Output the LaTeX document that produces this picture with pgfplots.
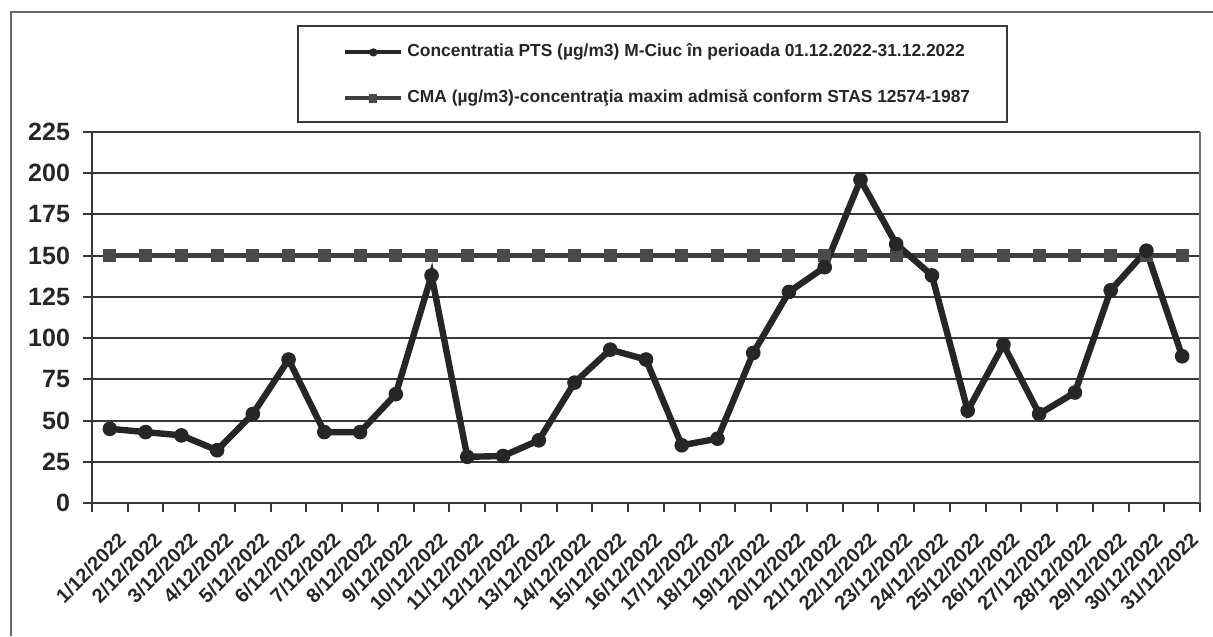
\documentclass[border=0pt]{standalone}
\usepackage{pgfplots}
\pgfplotsset{compat=1.18}
\usepackage{fontspec}
\setmainfont{Liberation Sans}
\definecolor{dk}{HTML}{262626}
\definecolor{gridc}{HTML}{383838}
\definecolor{cma}{HTML}{3E3E3E}
\definecolor{cmafill}{HTML}{4A4A4A}
\begin{document}
\begin{tikzpicture}
\useasboundingbox (-46pt,-66.5pt) rectangle (560.5pt,251.5pt);
\draw[gridc!75, line width=1pt] (-40.5pt,-66.5pt) -- (-40.5pt,245.5pt) -- (560.5pt,245.5pt);
\draw[gridc, line width=1pt] (103pt,190.5pt) rectangle (457.5pt,238.5pt);
\begin{axis}[
  at={(0pt,0pt)}, anchor=south west,
  scale only axis, width=554pt, height=185.5pt,
  xmin=0.5, xmax=31.5, ymin=0, ymax=225,
  clip=false,
  xtick={1,...,31},
  xticklabels={1/12/2022,2/12/2022,3/12/2022,4/12/2022,5/12/2022,6/12/2022,7/12/2022,8/12/2022,9/12/2022,10/12/2022,11/12/2022,12/12/2022,13/12/2022,14/12/2022,15/12/2022,16/12/2022,17/12/2022,18/12/2022,19/12/2022,20/12/2022,21/12/2022,22/12/2022,23/12/2022,24/12/2022,25/12/2022,26/12/2022,27/12/2022,28/12/2022,29/12/2022,30/12/2022,31/12/2022},
  minor xtick={0.5,1.5,...,31.5},
  ytick={0,25,...,225},
  ymajorgrids,
  grid style={gridc, line width=1pt},
  axis lines=left,
  axis line style={-, gridc, line width=1.3pt},
  tick align=outside,
  major tick length=4.5pt, minor tick length=4.5pt,
  tick style={gridc, line width=1pt},
  major x tick style={draw=none},
  /pgf/number format/assume math mode=true,
  yticklabel style={font=\bfseries\fontsize{12.5}{12.5}\selectfont, text=dk, xshift=-3pt},
  xticklabel style={font=\bfseries\fontsize{10}{10}\selectfont, text=dk, rotate=45, anchor=north east, inner sep=0pt, yshift=-9pt, xshift=-4pt},
  reverse legend,
  legend cell align=left,
  legend style={at={(0.2265,1.2493)}, anchor=north west, draw=none, fill=none,
    inner sep=0pt, row sep=10.5pt, text=dk,
    font=\bfseries\fontsize{8.7}{10}\selectfont,
    nodes={text height=6.5pt, text depth=2pt, inner sep=2pt}},
  legend image code/.code={\draw[mark repeat=2, mark phase=2, #1, line width=2pt, mark size=1.8pt] plot coordinates {(0pt,0pt) (14pt,0pt) (28pt,0pt)};},
]
\addplot[cma, line width=2.6pt, mark=square*, mark size=3pt, mark options={fill=cmafill, draw=cmafill, line width=0.5pt}]
  coordinates {(1,150) (2,150) (3,150) (4,150) (5,150) (6,150) (7,150) (8,150) (9,150) (10,150)
  (11,150) (12,150) (13,150) (14,150) (15,150) (16,150) (17,150) (18,150) (19,150) (20,150)
  (21,150) (22,150) (23,150) (24,150) (25,150) (26,150) (27,150) (28,150) (29,150) (30,150) (31,150)};
\addlegendentry{CMA (µg/m3)-concentraţia maxim admisă conform STAS 12574-1987}
\addplot[dk, line width=3.2pt, mark=*, mark size=3.4pt, mark options={fill=dk, draw=dk, line width=0.5pt}]
  coordinates {(1,45) (2,43) (3,41) (4,32) (5,54) (6,87) (7,43) (8,43) (9,66) (10,138)
  (11,28) (12,28.5) (13,38) (14,73) (15,93) (16,87) (17,35) (18,39) (19,91) (20,128)
  (21,143) (22,196) (23,157) (24,138) (25,56) (26,96) (27,54) (28,67) (29,129) (30,153) (31,89)};
\addlegendentry{Concentratia PTS (µg/m3) M-Ciuc în perioada 01.12.2022-31.12.2022}
\draw[gridc!70, line width=0.7pt] (rel axis cs:1,0) -- (rel axis cs:1,1);
\end{axis}
\end{tikzpicture}
\end{document}
